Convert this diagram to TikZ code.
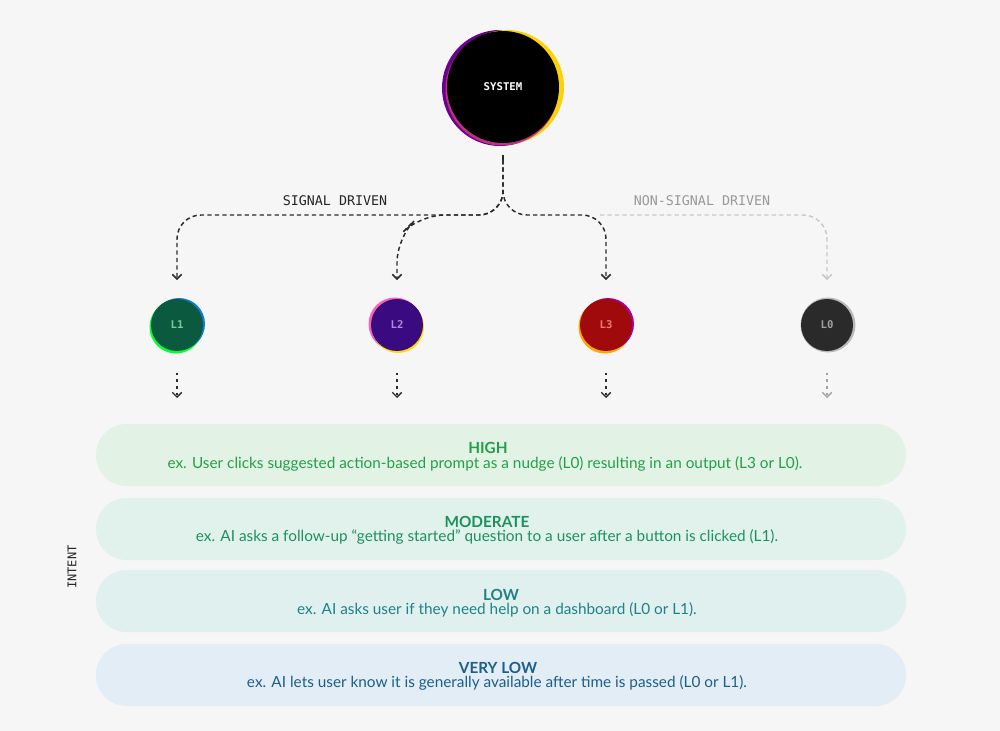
\documentclass[tikz,border=0pt]{standalone}
\usepackage{fontspec}
\usetikzlibrary{arrows.meta}
\newfontfamily\barfont{Lato}
\newfontfamily\monofont{DejaVu Sans Mono}
\definecolor{bg}{HTML}{F6F6F6}
\definecolor{highfill}{HTML}{E2F3E5}
\definecolor{modfill}{HTML}{E0F2EB}
\definecolor{lowfill}{HTML}{DFF0EE}
\definecolor{vlowfill}{HTML}{E2EDF5}
\definecolor{hightxt}{HTML}{23A047}
\definecolor{modtxt}{HTML}{1E9060}
\definecolor{lowtxt}{HTML}{1E8286}
\definecolor{vlowtxt}{HTML}{1C5F88}
\definecolor{lineclr}{HTML}{2A2A2A}
\definecolor{lightline}{HTML}{C8C8C8}
\definecolor{l1fill}{HTML}{0B5A40}
\definecolor{l1txt}{HTML}{7FC8A0}
\definecolor{l2fill}{HTML}{3A0A80}
\definecolor{l2txt}{HTML}{B088E0}
\definecolor{l3fill}{HTML}{A00A0A}
\definecolor{l3txt}{HTML}{F07878}
\definecolor{l0fill}{HTML}{2A2A2A}
\definecolor{l0txt}{HTML}{A0A0A0}
\tikzset{
  conn/.style={draw=lineclr, line width=1.1pt, dash pattern=on 3.2pt off 2.4pt, rounded corners=18pt, -{Straight Barb[length=3.5pt,width=7pt,line width=1.1pt]}},
  lightconn/.style={conn, draw=lightline},
  shortconn/.style={draw=lineclr, line width=1pt, dash pattern=on 2pt off 3pt, -{Straight Barb[length=3.5pt,width=7pt,line width=1pt]}},
  bar/.style={fill=#1, draw=none, rounded corners=23pt},
  lvl/.style={circle, minimum size=39pt, inner sep=0pt, font=\monofont\bfseries\fontsize{8}{9}\selectfont},
  bartitle/.style={font=\barfont\bfseries\fontsize{11.5}{13}\selectfont, inner sep=0pt},
  bartext/.style={font=\barfont\fontsize{11.5}{13}\selectfont, inner sep=0pt},
  lbl/.style={font=\monofont\fontsize{10}{12}\selectfont, inner sep=0pt},
}
\begin{document}
\begin{tikzpicture}[x=0.75pt,y=-0.75pt]
\fill[bg] (0,0) rectangle (1000,731);
\useasboundingbox (0,0) rectangle (1000,731);

% SYSTEM
\fill[violet!85!blue] (500,88) circle (58);
\fill[yellow!70!orange] (507,87) circle (57);
\fill[magenta!50!violet] (502,89) circle (56.5);
\node[circle, fill=black, minimum size=84pt, inner sep=0pt, text=white, font=\monofont\bfseries\fontsize{8}{9}\selectfont] (sys) at (503,87) {SYSTEM};
\coordinate (j) at (503,160);

% level circles with thin rims
\fill[green!80!cyan] (176,327) circle (26.5);
\fill[cyan!60!blue] (179,324) circle (26);
\node[lvl, fill=l1fill, text=l1txt] (l1) at (177,325) {L1};

\fill[magenta!60!white] (395,324) circle (26.5);
\fill[yellow!80!orange] (398,327) circle (26);
\node[lvl, fill=l2fill, text=l2txt] (l2) at (397,325) {L2};

\fill[orange!70!yellow] (605,327) circle (26.5);
\fill[violet!70!magenta] (608,324) circle (26);
\node[lvl, fill=l3fill, text=l3txt] (l3) at (606,325) {L3};

\fill[gray!55] (828,325) circle (27.5);
\node[lvl, fill=l0fill, text=l0txt] (l0) at (827,325) {L0};

% connectors
\draw[conn] (j) -- (503,215) -- (177,215) -- ([yshift=14]l1.north);
\draw[conn] (j) -- (503,215) -- (420,215) -- (397,238) -- ([yshift=14]l2.north);
\draw[conn] (j) -- (503,215) -- (606,215) -- ([yshift=14]l3.north);
\draw[lightconn] (600,215) -- (827,215) -- ([yshift=14]l0.north);
\draw[line width=1.1pt, draw=lineclr, dash pattern=on 3.2pt off 2.4pt] (sys.south) ++(0,12) -- (j);

\node[lbl, text=black!85] (sd) at (335,201) {SIGNAL DRIVEN};
\node[lbl, text=gray!80] (nsd) at (702,201) {NON-SIGNAL DRIVEN};

% bars
\path[bar=highfill] (96,424) rectangle (906,486);
\path[bar=modfill] (96,498) rectangle (906,560);
\path[bar=lowfill] (96,570) rectangle (906,632);
\path[bar=vlowfill] (96,644) rectangle (906,706);

\node[bartitle, text=hightxt] (t1) at (488,448) {HIGH};
\node[bartext, text=hightxt] (e1) at (485,464) {ex. User clicks suggested action-based prompt as a nudge (L0) resulting in an output (L3 or L0).};
\node[bartitle, text=modtxt] (t2) at (487,522) {MODERATE};
\node[bartext, text=modtxt] (e2) at (487,537) {ex. AI asks a follow-up “getting started” question to a user after a button is clicked (L1).};
\node[bartitle, text=lowtxt] (t3) at (501,595) {LOW};
\node[bartext, text=lowtxt] (e3) at (497,610) {ex. AI asks user if they need help on a dashboard (L0 or L1).};
\node[bartitle, text=vlowtxt] (t4) at (498,668) {VERY LOW};
\node[bartext, text=vlowtxt] (e4) at (497,683) {ex. AI lets user know it is generally available after time is passed (L0 or L1).};

% short arrows
\coordinate (b1) at (177,398);
\coordinate (b2) at (397,398);
\coordinate (b3) at (606,398);
\coordinate (b0) at (827,398);
\draw[shortconn] ([yshift=-16]l1.south) -- (b1);
\draw[shortconn] ([yshift=-16]l2.south) -- (b2);
\draw[shortconn] ([yshift=-16]l3.south) -- (b3);
\draw[shortconn, draw=lightline!80!black] ([yshift=-16]l0.south) -- (b0);

\node[lbl, rotate=90, text=black!85, font=\monofont\fontsize{9}{10}\selectfont] (intent) at (72,567) {INTENT};
\end{tikzpicture}
\end{document}
